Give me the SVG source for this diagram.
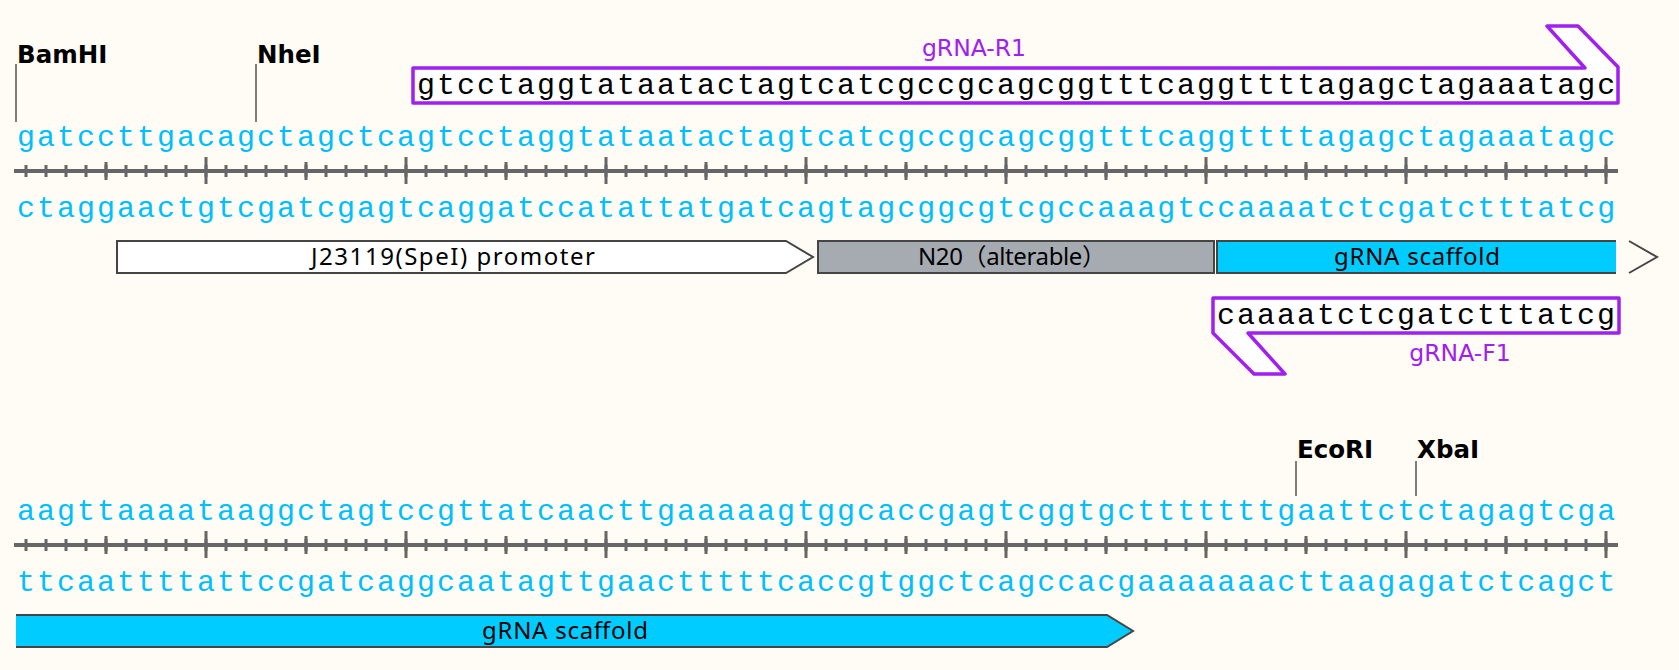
<svg xmlns="http://www.w3.org/2000/svg" width="1679" height="670" viewBox="0 0 1679 670">
<style>
.bg{fill:#fffcf5}
.seq{font-family:"Liberation Mono",monospace;font-size:30px;letter-spacing:2px;fill:#00bfff}
.pseq{font-family:"Liberation Mono",monospace;font-size:30px;letter-spacing:2px;fill:#000}
.site{font-family:"DejaVu Sans",sans-serif;font-weight:bold;font-size:24.5px;fill:#000}
.siteline{stroke:#7f7f7f;stroke-width:2;fill:none}
.rline{stroke:#666;stroke-width:4}
.tick{stroke:#666;fill:none}
.feat{stroke:#454545;stroke-width:2}
.flabel{font-family:"Noto Sans","Noto Sans CJK SC",sans-serif;font-size:24px;fill:#000;text-anchor:middle}
.primer{fill:#fff;stroke:#a020f0;stroke-width:3.5;stroke-linejoin:round}
.plabel{font-family:"DejaVu Sans",sans-serif;font-size:23.5px;fill:#a020f0;text-anchor:middle}
</style>
<defs>
<g id="ruler">
<line class="rline" x1="14" y1="0" x2="1618" y2="0"/>
<line class="tick" x1="24.5" y1="0" x2="1607.5" y2="0" stroke-width="12" stroke-dasharray="3 17"/>
<line class="tick" x1="104.5" y1="0" x2="1607.5" y2="0" stroke-width="18" stroke-dasharray="3 197"/>
<line class="tick" x1="204.5" y1="-0.5" x2="1607.5" y2="-0.5" stroke-width="27" stroke-dasharray="3 197"/>
</g>
</defs>
<rect class="bg" x="0" y="0" width="1679" height="670"/>

<g id="row1-ruler"><use href="#ruler" transform="translate(0,171)"/></g>
<g id="row2-ruler"><use href="#ruler" transform="translate(0,545)"/></g>

<g id="connectors">
<line class="siteline" x1="16" y1="64" x2="16" y2="122"/>
<line class="siteline" x1="256" y1="64" x2="256" y2="122"/>
<line class="siteline" x1="1296" y1="461" x2="1296" y2="496"/>
<line class="siteline" x1="1416" y1="461" x2="1416" y2="496"/>
</g>

<g id="site-BamHI"><text class="site" x="17" y="63">BamHI</text></g>
<g id="site-NheI"><text class="site" x="257" y="63">NheI</text></g>
<g id="site-EcoRI"><text class="site" x="1297" y="458">EcoRI</text></g>
<g id="site-XbaI"><text class="site" x="1417" y="458">XbaI</text></g>

<g id="primer-R1">
<polygon class="primer" points="413,68 1585,68 1547,26 1578,26 1618,67 1618,103 413,103"/>
<text class="pseq" x="417" y="94">gtcctaggtataatactagtcatcgccgcagcggtttcaggttttagagctagaaatagc</text>
<text class="plabel" x="974" y="56">gRNA-R1</text>
</g>

<g id="row1-seq">
<text class="seq" x="17" y="146">gatccttgacagctagctcagtcctaggtataatactagtcatcgccgcagcggtttcaggttttagagctagaaatagc</text>
<text class="seq" x="17" y="217">ctaggaactgtcgatcgagtcaggatccatattatgatcagtagcggcgtcgccaaagtccaaaatctcgatctttatcg</text>
</g>

<g id="feature-J23119">
<polygon class="feat" fill="#fff" points="117,241 786,241 813,257 786,273 117,273"/>
<text class="flabel" x="453" y="265" textLength="284" lengthAdjust="spacing">J23119(SpeI) promoter</text>
</g>
<g id="feature-N20">
<rect class="feat" fill="#a6abb2" x="818" y="241" width="396" height="32"/>
<text class="flabel" x="1012" y="265" textLength="188" lengthAdjust="spacing">N20（alterable）</text>
</g>
<g id="feature-scaffold-1">
<rect fill="#00ccff" x="1217" y="241" width="399" height="32"/>
<path class="feat" fill="none" d="M1616 241H1217V273H1616"/>
<polyline class="feat" fill="none" stroke="#666" points="1629,241 1657,257 1629,273"/>
<text class="flabel" x="1417" y="265" textLength="166" lengthAdjust="spacing">gRNA scaffold</text>
</g>

<g id="primer-F1">
<polygon class="primer" points="1213,298 1619,298 1619,333 1248,333 1285,374 1254,374 1213,333"/>
<text class="pseq" x="1217" y="324">caaaatctcgatctttatcg</text>
<text class="plabel" x="1460" y="361">gRNA-F1</text>
</g>

<g id="row2-seq">
<text class="seq" x="17" y="520">aagttaaaataaggctagtccgttatcaacttgaaaaagtggcaccgagtcggtgctttttttgaattctctagagtcga</text>
<text class="seq" x="17" y="591">ttcaattttattccgatcaggcaatagttgaactttttcaccgtggctcagccacgaaaaaaacttaagagatctcagct</text>
</g>

<g id="feature-scaffold-2">
<polygon fill="#00ccff" points="16,615 1107,615 1133,631 1107,647 16,647"/>
<path class="feat" fill="none" d="M16 615H1107L1133 631L1107 647H16"/>
<text class="flabel" x="565" y="639" textLength="166" lengthAdjust="spacing">gRNA scaffold</text>
</g>
</svg>
